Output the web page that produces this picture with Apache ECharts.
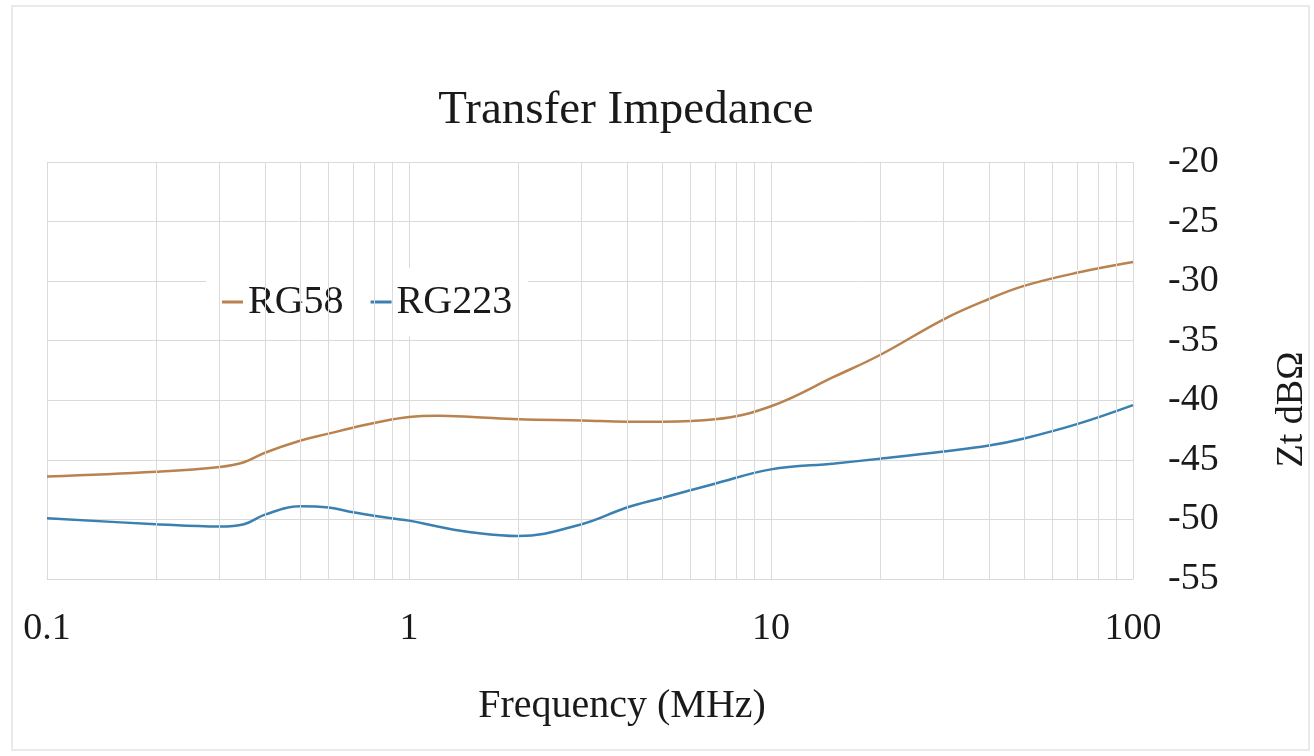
<!DOCTYPE html>
<html>
<head>
<meta charset="utf-8">
<title>Transfer Impedance</title>
<script src="https://cdn.jsdelivr.net/npm/echarts@6/dist/echarts.min.js"></script>
<style>
    html, body { margin: 0; padding: 0; background: #fff; }
    #chart { width: 1314px; height: 756px; }
</style>
</head>
<body>
<div id="chart"></div>
<script>
// frequency points in MHz
var freq = [0.1, 0.2, 0.3, 0.35, 0.4, 0.5, 0.6, 0.7, 0.8, 1, 1.2, 1.5, 2, 3, 4, 5, 7, 10, 15, 20, 30, 40, 50, 70, 100];
var rg58 = [-46.4, -46.0, -45.6, -45.2, -44.4, -43.4, -42.8, -42.3, -41.9, -41.4, -41.3, -41.4, -41.6, -41.7, -41.8, -41.8, -41.6, -40.5, -38.0, -36.2, -33.2, -31.5, -30.4, -29.3, -28.4];
var rg223 = [-49.9, -50.4, -50.6, -50.4, -49.6, -48.9, -49.0, -49.4, -49.7, -50.1, -50.6, -51.1, -51.4, -50.4, -49.0, -48.2, -47.0, -45.8, -45.3, -44.9, -44.3, -43.8, -43.2, -42.0, -40.4];
// minor log grid lines (2..9 of each decade)
var minorLines = [0.2, 0.3, 0.4, 0.5, 0.6, 0.7, 0.8, 0.9, 2, 3, 4, 5, 6, 7, 8, 9, 20, 30, 40, 50, 60, 70, 80, 90];

var chart = echarts.init(document.getElementById('chart'));

var pairs = function (xs, ys) {
    var res = [];
    for (var i = 0; i < xs.length; i++) {
        res.push([xs[i], ys[i]]);
    }
    return res;
};

var gridColor = '#dadada';
var serif = '"Liberation Serif", "Times New Roman", serif';

var option = {
    backgroundColor: '#fff',
    animation: false,
    graphic: [{
        type: 'rect',
        shape: { x: 12, y: 6, width: 1297, height: 744 },
        style: { fill: 'none', stroke: '#e3e3e3', lineWidth: 1.5 },
        silent: true
    }],
    title: {
        text: 'Transfer Impedance',
        left: 621,
        top: 82,
        textAlign: 'center',
        textStyle: { fontFamily: serif, fontSize: 47, fontWeight: 'normal', color: '#1a1a1a' }
    },
    legend: {
        data: ['RG58', 'RG223'],
        left: 206,
        top: 268,
        padding: [14, 16, 14, 16],
        backgroundColor: '#fff',
        icon: 'rect',
        itemWidth: 21,
        itemHeight: 3,
        itemGap: 27,
        textStyle: { fontFamily: serif, fontSize: 40, color: '#1a1a1a' }
    },
    grid: {
        left: 47,
        right: 181,
        top: 162,
        bottom: 177,
        outerBoundsMode: 'none'
    },
    xAxis: {
        type: 'log',
        logBase: 10,
        min: 0.1,
        max: 100,
        name: 'Frequency (MHz)',
        nameLocation: 'middle',
        nameGap: 107,
        nameTextStyle: { fontFamily: serif, fontSize: 40, color: '#1a1a1a', padding: [0, 0, 0, 64] },
        axisLine: { lineStyle: { color: gridColor } },
        axisTick: { show: false },
        axisLabel: {
            margin: 31,
            fontFamily: serif,
            fontSize: 38,
            color: '#1a1a1a',
            formatter: function (v) { return String(v); }
        },
        splitLine: { show: true, lineStyle: { color: gridColor, width: 1 } }
    },
    yAxis: {
        type: 'value',
        position: 'right',
        min: -55,
        max: -20,
        interval: 5,
        name: 'Zt dB\u03A9',
        nameLocation: 'middle',
        nameRotate: 90,
        nameGap: 140,
        nameTextStyle: { fontFamily: serif, fontSize: 38, color: '#1a1a1a', padding: [0, 78, 0, 0] },
        axisLine: { show: false },
        axisTick: { show: false },
        axisLabel: { margin: 35, fontFamily: serif, fontSize: 38, color: '#1a1a1a' },
        splitLine: { show: true, lineStyle: { color: gridColor, width: 1 } }
    },
    series: [
        {
            // carrier for the minor vertical grid lines
            name: 'minor',
            type: 'line',
            z: 1,
            silent: true,
            showSymbol: false,
            data: pairs(freq, rg58),
            lineStyle: { opacity: 0 },
            markLine: {
                silent: true,
                symbol: ['none', 'none'],
                label: { show: false },
                lineStyle: { color: gridColor, type: 'solid', width: 1 },
                data: minorLines.map(function (v) { return { xAxis: v }; })
            }
        },
        {
            name: 'RG58',
            type: 'line',
            smooth: 0.4,
            showSymbol: false,
            data: pairs(freq, rg58),
            itemStyle: { color: '#b9824f' },
            lineStyle: { color: '#b9824f', width: 2.5 }
        },
        {
            name: 'RG223',
            type: 'line',
            smooth: 0.4,
            showSymbol: false,
            data: pairs(freq, rg223),
            itemStyle: { color: '#3a80b0' },
            lineStyle: { color: '#3a80b0', width: 2.5 }
        }
    ]
};

chart.setOption(option);
</script>
</body>
</html>
